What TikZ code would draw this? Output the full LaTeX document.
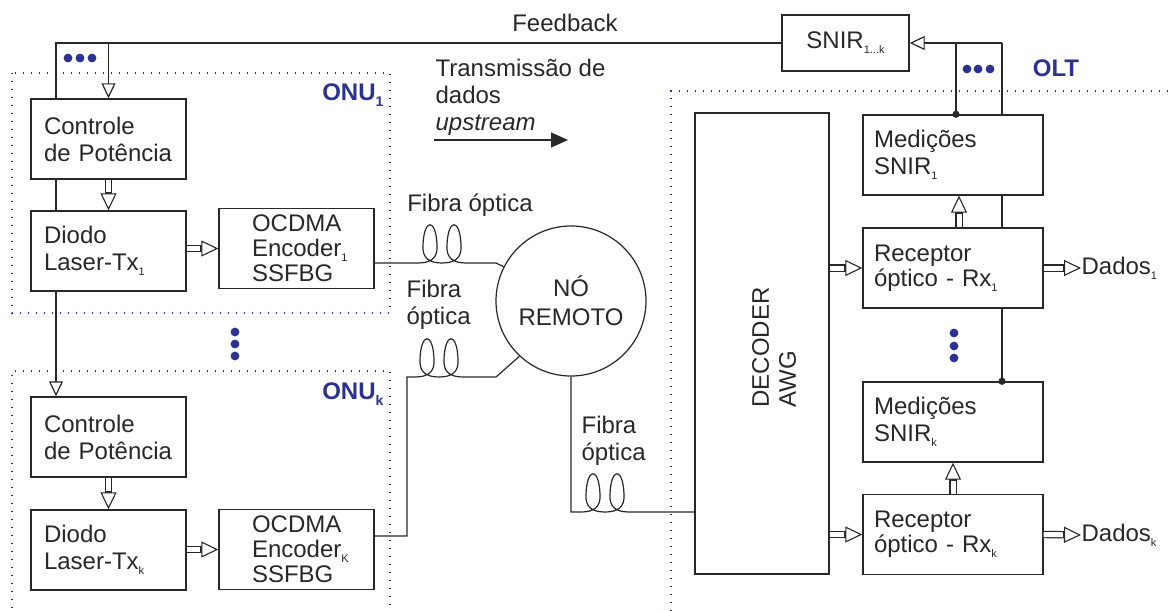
\documentclass[tikz,border=0pt]{standalone}
\usepackage{fontspec}
\setmainfont{Liberation Sans}
\usetikzlibrary{arrows.meta}

\definecolor{onublue}{RGB}{43,50,145}
\definecolor{wire}{RGB}{40,40,40}
\newcommand{\ix}[1]{\raisebox{-0.4ex}{\fontsize{5.5}{5.5}\selectfont #1}}
\newcommand{\tix}[1]{\raisebox{-0.45ex}{\fontsize{7}{7}\selectfont #1}}

\tikzset{
  box/.style={draw=wire, line width=0.7pt, fill=white, minimum height=40pt,
    inner ysep=1pt, align=left},
  lbox/.style={box, text width=64.5pt, inner xsep=6.5pt},
  ebox/.style={box, text width=44.5pt, inner xsep=16.5pt,
    font=\fontsize{12}{12.5}\selectfont},
  obox/.style={box, text width=79pt, inner xsep=5.5pt},
  frame/.style={draw=onublue, line width=0.7pt, dash pattern=on 0.7pt off 3.3pt},
  tag/.style={text=onublue, font=\fontsize{12}{13}\selectfont\bfseries, inner sep=0pt},
  lbl/.style={inner sep=0pt, align=left},
  openarr/.style={-{Triangle[open, fill=white, length=7.5pt, width=7pt]}},
  hollow/.style={line width=3.7pt,
    -{Triangle[open, fill=white, length=8.5pt, width=8pt, line width=0.55pt]},
    postaction={draw=white, line width=2.5pt, arrows=-, shorten >=9.1pt}},
  fibloop/.style={insert path={
    .. controls +(13,0) and +(1,13) .. ++(19,-18)
    .. controls +(-1,-27) and +(1,-27) .. ++(-14,0)
    .. controls +(-1,13) and +(-13,0) .. ++(19,18)}}
}

\begin{document}
\begin{tikzpicture}[x=0.5pt, y=-0.5pt, color=wire, line width=0.6pt,
    font=\fontsize{12}{13.5}\selectfont]
  \useasboundingbox (0,0) rectangle (1170,610);

  % dotted frames
  \draw[frame] (12,73) rectangle (390,313);
  \draw[frame] (12,640) -- (12,371) -- (390,371) -- (390,640);
  \draw[frame] (1200,91) -- (671,91) -- (671,640);

  % ONU 1
  \node[lbox] (ctl1) at (108.5,139) {Controle\\de Potência};
  \node[lbox] (dio1) at (108.5,251) {Diodo\\Laser-Tx\ix{1}};
  \node[ebox] (enc1) at (296.5,248.5) {OCDMA\\Encoder\ix{1}\\SSFBG};
  \node[tag, anchor=east] (onu1) at (384,95) {ONU\tix{1}};

  % ONU k
  \node[lbox] (ctlK) at (108.5,437) {Controle\\de Potência};
  \node[lbox] (dioK) at (108.5,550) {Diodo\\Laser-Tx\ix{k}};
  \node[ebox] (encK) at (296.5,549.5) {OCDMA\\Encoder\ix{K}\\SSFBG};
  \node[tag, anchor=east] (onuK) at (384,394) {ONU\tix{k}};

  \foreach \y in {332,344,356}
    \fill[onublue] (235,\y) circle (2.2pt);
  \foreach \x in {68,80,92}
    \fill[onublue] (\x,58) circle (2.2pt);

  % remote node
  \node[circle, draw, minimum size=75pt, inner sep=0pt, align=center,
    font=\fontsize{12}{14.5}\selectfont] (no) at (571,301) {NÓ\\REMOTO};
  \node[lbl] (fib1) at (470,205) {Fibra óptica};
  \node[lbl, anchor=west] (fib2) at (406,305) {Fibra\\óptica};
  \node[lbl, anchor=west] (fib3) at (581,441) {Fibra\\óptica};

  \node[lbl, anchor=west] (trans) at (435,97) {Transmissão de\\dados\\\textit{upstream}};
  \coordinate (upA) at (434,140);
  \coordinate (upB) at (568,140);
  \draw[-{Triangle[length=8.5pt, width=7.5pt]}] (upA) -- (upB);

  % OLT
  \node[box, minimum width=67pt, minimum height=230.5pt] (dec) at (762,343.5) {};
  \node[lbl, rotate=90] (decl) at (774,347.5) {DECODER\\AWG};
  \node[obox] (med1) at (953,155) {Medições\\SNIR\ix{1}};
  \node[obox, font=\fontsize{12}{10}\selectfont] (rx1) at (953,268) {Receptor\\óptico - Rx\ix{1}};
  \node[obox] (medK) at (953,422) {Medições\\SNIR\ix{k}};
  \node[obox, font=\fontsize{12}{10}\selectfont] (rxK) at (953,534.5) {Receptor\\óptico - Rx\ix{k}};
  \node[lbl, anchor=west] (dados1) at (1081,268) {Dados\ix{1}};
  \node[lbl, anchor=west] (dadosK) at (1081,535) {Dados\ix{k}};
  \node[tag] (olt) at (1056,68) {OLT};

  \foreach \y in {333,346,358}
    \fill[onublue] (954,\y) circle (2.2pt);
  \foreach \x in {967,978,990}
    \fill[onublue] (\x,69) circle (2.2pt);

  % feedback
  \node[box, minimum width=63.5pt, minimum height=28pt] (snir) at (845.5,43) {SNIR\ix{1...k}};
  \node[lbl] (fbtxt) at (565,23) {Feedback};
  \coordinate (fbL) at (56,43);
  \coordinate (fbR) at (1002,43);

  \draw (snir.west) -- (fbL) -- (fbL |- ctl1.north);
  \draw[openarr] (ctl1.north |- fbL) -- (ctl1.north);
  \draw (fbL |- ctl1.south) -- (fbL |- dio1.north);
  \draw[openarr] (fbL |- dio1.south) -- (fbL |- ctlK.north);

  \draw[openarr] (fbR) -- (snir.east);
  \draw (fbR) -- (fbR |- med1.north);
  \draw (fbR |- med1.south) -- (fbR |- rx1.north);
  \draw (fbR |- rx1.south) -- (fbR |- medK.north);
  \fill (fbR |- medK.north) circle (1.8pt);
  \draw ([xshift=1.5pt]med1.north) -- ([xshift=1.5pt]med1.north |- fbR);
  \fill ([xshift=1.5pt]med1.north) circle (1.8pt);

  % hollow arrows
  \draw[hollow] (ctl1) -- (dio1);
  \draw[hollow] (dio1.east |- enc1) -- (enc1.west);
  \draw[hollow] (ctlK) -- (dioK);
  \draw[hollow] (dioK.east |- encK) -- (encK.west);
  \draw[hollow] (dec.east |- rx1) -- (rx1.west);
  \draw[hollow] (dec.east |- rxK) -- (rxK.west);
  \draw[hollow] ([xshift=3pt]rx1.north) -- ([xshift=3pt]med1.south);
  \draw[hollow] (rxK) -- (medK);
  \draw[hollow] (rx1.east) -- (dados1.west);
  \draw[hollow] (rxK.east) -- (dadosK.west);

  % fibres
  \draw ([yshift=-7.25pt]enc1.east) -- (418,263) [fibloop] [fibloop]
    -- (496,263) -- (no.153);
  \draw ([yshift=6.75pt]encK.east) -- (407,536) -- (407,377) -- (415,377)
    [fibloop] [fibloop] -- (496,377) -- (no.227);
  \draw (no.south) -- (571,512) -- (581,512) [fibloop] [fibloop]
    -- ([yshift=-84.25pt]dec.west);
\end{tikzpicture}
\end{document}
